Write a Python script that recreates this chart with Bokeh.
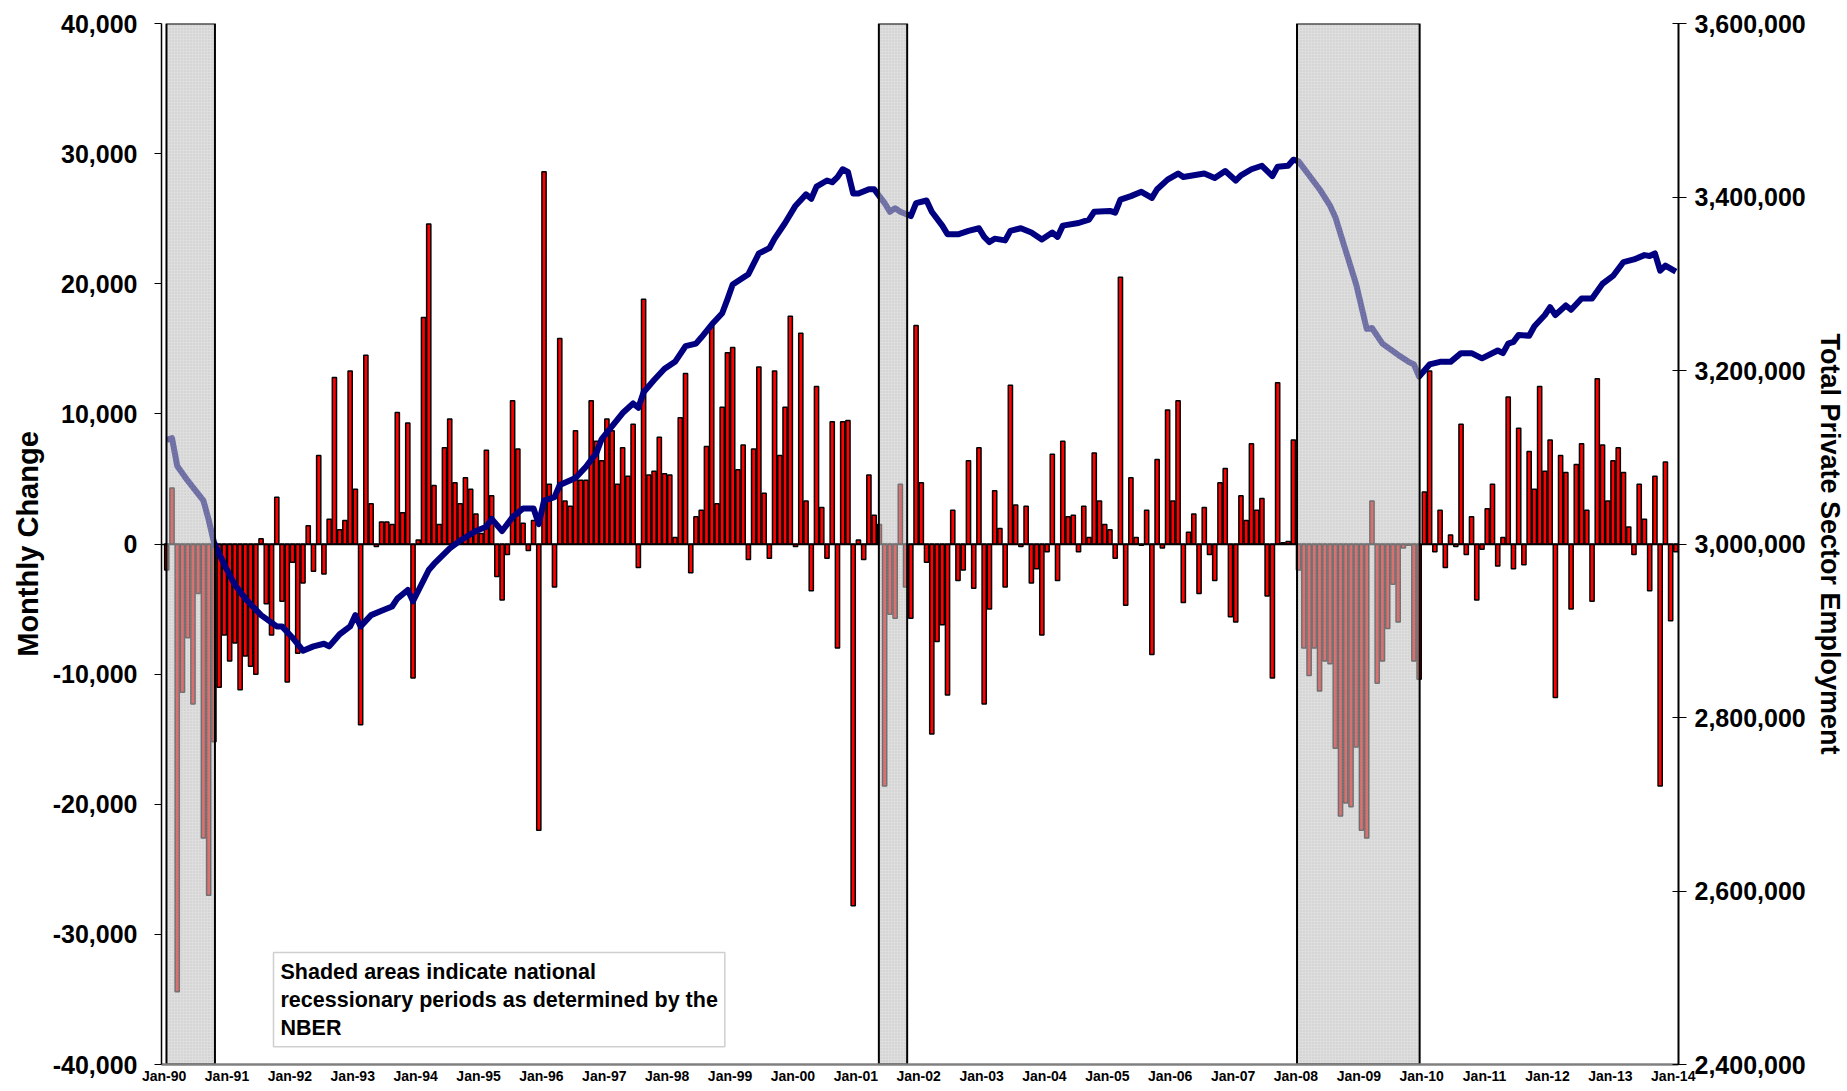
from bokeh.plotting import figure
from bokeh.models import Range1d, LinearAxis, FixedTicker, NumeralTickFormatter, Label
from bokeh.embed import file_html
from bokeh.resources import INLINE

# ---------------- data ----------------
# monthly change, Jan-90 .. Jan-14 (one row per year)
chg_1990 = [-2000, 4300, -34400, -11400, -7200, -12300, -3800, -22600, -27000, -15200, -11000, -7000]
chg_1991 = [-9000, -7600, -11200, -8600, -9400, -10000, 400, -4600, -7000, 3600, -4400, -10600]
chg_1992 = [-1400, -8400, -3000, 1400, -2100, 6800, -2300, 1900, 12800, 1100, 1800, 13300]
chg_1993 = [4200, -13900, 14500, 3100, -200, 1700, 1700, 1500, 10100, 2400, 9300, -10300]
chg_1994 = [300, 17400, 24600, 4500, 1500, 7400, 9600, 4700, 3100, 5100, 4200, 2300]
chg_1995 = [800, 7200, 3700, -2500, -4300, -800, 11000, 7300, 1600, -500, 1800, -22000]
chg_1996 = [28600, 4600, -3300, 15800, 3300, 2900, 8700, 4900, 4900, 11000, 7900, 6400]
chg_1997 = [9600, 8700, 4600, 7400, 5200, 9200, -1800, 18800, 5300, 5600, 8200, 5400]
chg_1998 = [5300, 500, 9700, 13100, -2200, 2100, 2600, 7500, 16900, 3100, 10500, 14700]
chg_1999 = [15100, 5700, 7600, -1200, 7300, 13600, 3900, -1100, 13300, 6800, 10500, 17500]
chg_2000 = [-200, 16200, 3300, -3600, 12100, 2800, -1100, 9400, -8000, 9400, 9500, -27800]
chg_2001 = [300, -1200, 5300, 2200, 1500, -18600, -5400, -5700, 4600, -3300, -5700, 16800]
chg_2002 = [4700, -1400, -14600, -7500, -6200, -11600, 2600, -2800, -2000, 6400, -3400, 7400]
chg_2003 = [-12300, -5000, 4100, 1200, -3300, 12200, 3000, -200, 2900, -3000, -1900, -7000]
chg_2004 = [-600, 6900, -2800, 7900, 2100, 2200, -600, 2900, 500, 7000, 3300, 1500]
chg_2005 = [1100, -1100, 20500, -4700, 5100, 500, -100, 2600, -8500, 6500, -300, 10300]
chg_2006 = [3300, 11000, -4500, 900, 2300, -3800, 2800, -800, -2800, 4700, 5800, -5600]
chg_2007 = [-6000, 3700, 1800, 7700, 2600, 3500, -4000, -10300, 12400, 100, 200, 8000]
chg_2008 = [-2000, -8000, -10100, -8000, -11300, -9000, -9200, -15700, -20900, -19900, -20200, -15600]
chg_2009 = [-22000, -22600, 3300, -10700, -9000, -6500, -3100, -6000, -300, -100, -9000, -10400]
chg_2010 = [4000, 13300, -600, 2600, -1800, 700, -200, 9200, -800, 2100, -4300, -400]
chg_2011 = [2700, 4600, -1700, 500, 11300, -1900, 8900, -1600, 7100, 4200, 12100, 5600]
chg_2012 = [8000, -11800, 6800, 5500, -5000, 6100, 7700, 2600, -4400, 12700, 7600, 3300]
chg_2013 = [6400, 7400, 5500, 1300, -800, 4600, 1900, -3600, 5200, -18600, 6300, -5900]
chg_2014 = [-600]

monthly_change = (chg_1990 + chg_1991 + chg_1992 + chg_1993 + chg_1994 + chg_1995 + chg_1996
                  + chg_1997 + chg_1998 + chg_1999 + chg_2000 + chg_2001 + chg_2002 + chg_2003
                  + chg_2004 + chg_2005 + chg_2006 + chg_2007 + chg_2008 + chg_2009 + chg_2010
                  + chg_2011 + chg_2012 + chg_2013 + chg_2014)
month_index = list(range(len(monthly_change)))

# total private sector employment (read at the months listed)
emp_month = [0, 1, 2, 4, 7, 8, 9, 11, 13, 15, 18, 21, 22, 24, 26, 28, 30, 31, 33, 35,
             36, 37, 39, 41, 43, 44, 46, 47, 50, 51, 54, 56, 59, 61, 62, 64, 66, 68, 70, 71,
             72, 74, 75, 78, 80, 82, 83, 85, 87, 89, 90, 91, 93, 95, 97, 99, 101, 102, 104, 106,
             107, 108, 111, 113, 115, 116, 118, 120, 122, 123, 124, 126, 127, 128, 129, 130, 131, 132, 134, 135,
             137, 138, 139, 140, 142, 143, 145, 146, 148, 149, 151, 153, 155, 156, 157, 158, 160, 161, 163, 165,
             167, 169, 170, 171, 174, 176, 177, 180, 181, 182, 184, 186, 188, 189, 191, 193, 194, 198, 200, 202,
             204, 205, 207, 209, 211, 212, 214, 215, 216, 218, 220, 222, 223, 225, 227, 229, 230, 232, 235, 237,
             238, 239, 241, 243, 245, 247, 249, 251, 254, 255, 256, 257, 258, 260, 261, 263, 264, 265, 267, 268,
             270, 272, 274, 276, 278, 280, 282, 283, 284, 285, 286, 288]
emp_value = [3120000, 3122000, 3090000, 3073000, 3050000, 3028000, 3002000, 2976000, 2953000, 2937000,
             2918000, 2905000, 2905000, 2892000, 2877000, 2882000, 2885000, 2882000, 2896000, 2905000,
             2918000, 2905000, 2918000, 2923000, 2928000, 2937000, 2947000, 2934000, 2970000, 2977000,
             2995000, 3004000, 3015000, 3020000, 3029000, 3015000, 3031000, 3041000, 3041000, 3023000,
             3050000, 3054000, 3068000, 3076000, 3089000, 3105000, 3121000, 3136000, 3151000, 3162000,
             3157000, 3175000, 3189000, 3202000, 3210000, 3228000, 3231000, 3238000, 3253000, 3266000,
             3282000, 3299000, 3311000, 3335000, 3341000, 3352000, 3370000, 3390000, 3403000, 3398000,
             3412000, 3419000, 3417000, 3423000, 3432000, 3429000, 3404000, 3404000, 3409000, 3409000,
             3393000, 3383000, 3387000, 3383000, 3378000, 3393000, 3396000, 3383000, 3367000, 3357000,
             3357000, 3361000, 3364000, 3354000, 3348000, 3352000, 3350000, 3361000, 3364000, 3359000,
             3351000, 3359000, 3354000, 3367000, 3370000, 3374000, 3383000, 3384000, 3382000, 3397000,
             3401000, 3406000, 3399000, 3409000, 3420000, 3427000, 3423000, 3427000, 3422000, 3430000,
             3419000, 3425000, 3432000, 3436000, 3424000, 3435000, 3436000, 3443000, 3441000, 3425000,
             3409000, 3390000, 3377000, 3338000, 3299000, 3248000, 3249000, 3231000, 3218000, 3210000,
             3207000, 3193000, 3207000, 3210000, 3210000, 3220000, 3220000, 3214000, 3223000, 3220000,
             3231000, 3233000, 3241000, 3240000, 3251000, 3264000, 3273000, 3264000, 3275000, 3270000,
             3283000, 3283000, 3300000, 3309000, 3325000, 3328000, 3333000, 3332000, 3335000, 3315000,
             3321000, 3314000]

# NBER recession shading (in month units)
recession_start = [-0.05, 135.9, 215.7]
recession_end = [9.2, 141.3, 239.1]

year_labels = ["Jan-%02d" % (y % 100) for y in range(1990, 2015)]
left_ticks = list(range(-40000, 40001, 10000))
right_ticks = list(range(2400000, 3600001, 200000))

note_text = "Shaded areas indicate national\nrecessionary periods as determined by the\nNBER"

# ---------------- figure ----------------
FONT = "Liberation Sans"
p = figure(width=1847, height=1089,
           x_range=Range1d(-1.0, 288.5), y_range=Range1d(-40000, 40000),
           output_backend="svg", toolbar_location=None,
           min_border_left=161, min_border_right=169, min_border_top=23, min_border_bottom=25)
p.outline_line_color = None
p.xgrid.visible = False
p.ygrid.visible = False
p.extra_y_ranges = {"emp": Range1d(2400000, 3600000)}

# bars
p.vbar(x=month_index, top=monthly_change, bottom=0, width=0.8,
       fill_color="#ff0000", line_color="black", line_width=1.5)
# zero line
p.hspan(y=[0], line_color="black", line_width=1.5)
# employment line
p.line(x=emp_month, y=emp_value, y_range_name="emp",
       line_color="#000080", line_width=6, line_join="round")
# recession boxes
p.quad(left=recession_start, right=recession_end, bottom=-40000, top=40000,
       fill_color="#c4c4c4", fill_alpha=0.56, line_color="black", line_width=2,
       hatch_pattern="dot", hatch_color="#9a9a9a", hatch_alpha=0.35, hatch_scale=3, hatch_weight=1)

# note
note = Label(x=112, y=112, x_units="screen", y_units="screen", text=note_text,
             text_font=FONT, text_font_size="21.5px", text_font_style="bold", text_color="black",
             text_align="left", text_baseline="top", text_line_height=1.17,
             background_fill_color="white", border_line_color="#cfcfcf", border_line_width=1.5)
note.padding = 7
p.add_layout(note)

# x axis
xa = p.xaxis[0]
tick_pos = [12 * k - 0.5 for k in range(len(year_labels))]
xa.ticker = FixedTicker(ticks=tick_pos)
xa.major_label_overrides = {t: lab for t, lab in zip(tick_pos, year_labels)}
xa.major_label_text_font = FONT
xa.major_label_text_font_style = "bold"
xa.major_label_text_font_size = "14px"
xa.major_label_text_color = "black"
xa.major_label_standoff = 3
xa.major_tick_out = 0
xa.major_tick_in = 0
xa.minor_tick_out = 0
xa.minor_tick_in = 0
xa.axis_line_color = "#808080"
xa.axis_line_width = 2.5

# left axis
ya = p.yaxis[0]
ya.ticker = FixedTicker(ticks=left_ticks)
ya.formatter = NumeralTickFormatter(format="0,0")
ya.major_label_text_font = FONT
ya.major_label_text_font_style = "bold"
ya.major_label_text_font_size = "25px"
ya.major_label_text_color = "black"
ya.major_label_standoff = 17
ya.major_tick_out = 7
ya.major_tick_in = 0
ya.minor_tick_out = 0
ya.minor_tick_in = 0
ya.axis_line_color = "black"
ya.axis_line_width = 1.5
ya.major_tick_line_color = "black"
ya.axis_label = "Monthly Change"
ya.axis_label_text_font = FONT
ya.axis_label_text_font_style = "bold"
ya.axis_label_text_font_size = "29px"
ya.axis_label_text_color = "black"
ya.axis_label_standoff = 6

# right axis
ra = LinearAxis(y_range_name="emp", ticker=FixedTicker(ticks=right_ticks),
                formatter=NumeralTickFormatter(format="0,0"))
ra.major_label_text_font = FONT
ra.major_label_text_font_style = "bold"
ra.major_label_text_font_size = "25px"
ra.major_label_text_color = "black"
ra.major_label_standoff = 8
ra.major_tick_out = 8
ra.major_tick_in = 6
ra.minor_tick_out = 0
ra.minor_tick_in = 0
ra.axis_line_color = "black"
ra.axis_line_width = 2
ra.axis_label = "Total Private Sector Employment"
ra.axis_label_text_font = FONT
ra.axis_label_text_font_style = "bold"
ra.axis_label_text_font_size = "27px"
ra.axis_label_text_color = "black"
ra.axis_label_standoff = 6
p.add_layout(ra, "right")

open("out.html", "w").write(file_html(p, INLINE))
